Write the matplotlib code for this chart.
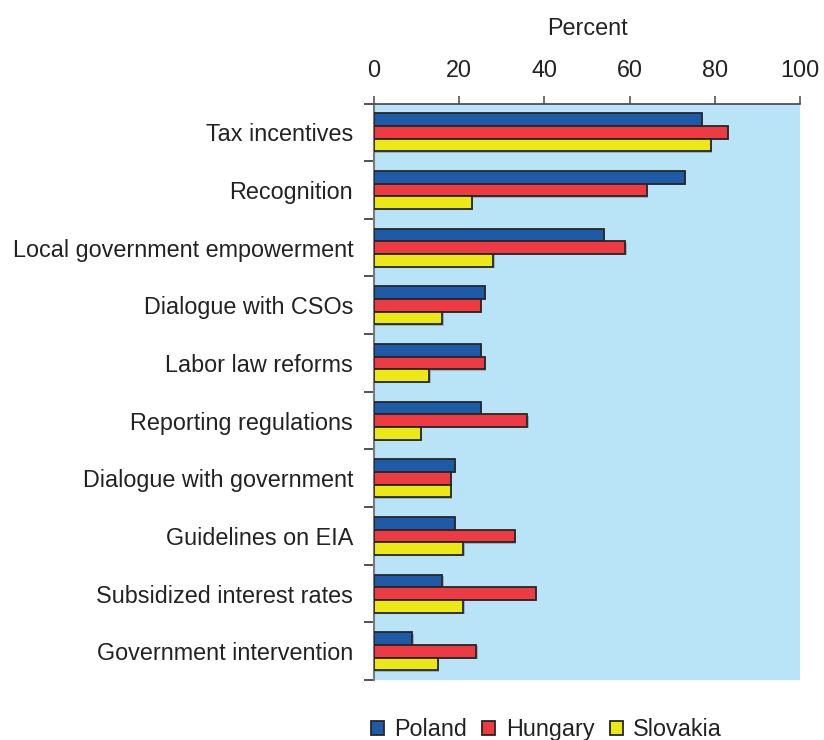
import numpy as np
import matplotlib
matplotlib.use("Agg")
import matplotlib.pyplot as plt
from matplotlib.patches import Patch
from matplotlib import patheffects as pe

plt.rcParams['font.family'] = ['Liberation Sans', 'DejaVu Sans']

categories = [
    "Tax incentives",
    "Recognition",
    "Local government empowerment",
    "Dialogue with CSOs",
    "Labor law reforms",
    "Reporting regulations",
    "Dialogue with government",
    "Guidelines on EIA",
    "Subsidized interest rates",
    "Government intervention",
]
poland = [77, 73, 54, 26, 25, 25, 19, 19, 16, 9]
hungary = [83, 64, 59, 25, 26, 36, 18, 33, 38, 24]
slovakia = [79, 23, 28, 16, 13, 11, 18, 21, 21, 15]
series_names = ["Poland", "Hungary", "Slovakia"]
x_ticks = [0, 20, 40, 60, 80, 100]

colors = ["#1D5BA8", "#EE3A43", "#ECE814"]
edge = "#262626"
bg = "#B9E4F7"
txt = "#222222"
fs = 16.8

fig = plt.figure(figsize=(8.24, 7.40), dpi=100)
ax = fig.add_axes([374 / 824, 1 - 680 / 740, 426 / 824, (680 - 103.5) / 740])
ax.set_facecolor(bg)

n = len(categories)
centers = np.arange(n) + 0.5
h = 0.22
shadow = [pe.SimplePatchShadow(offset=(1, -1), shadow_rgbFace="#555555", alpha=0.35), pe.Normal()]
for i, (vals, c) in enumerate(zip([poland, hungary, slovakia], colors)):
    ax.barh(centers + (i - 1) * h, vals, height=h, color=c, edgecolor=edge,
            linewidth=1.3, path_effects=shadow, zorder=3)

ax.set_xlim(0, 100)
ax.set_ylim(n, 0)

# x axis on top
ax.xaxis.tick_top()
ax.xaxis.set_label_position('top')
ax.set_xticks(x_ticks)
ax.set_xticklabels([str(t) for t in x_ticks], fontsize=fs, color=txt)
ax.tick_params(axis='x', direction='out', length=6, width=1.2, color="#555555", pad=9.5)
ax.set_xlabel("Percent", fontsize=fs, color=txt, labelpad=17.5)

# y ticks at group boundaries, labels at group centers
ax.set_yticks(np.arange(n + 1))
ax.set_yticklabels([])
ax.set_yticks(centers, minor=True)
ax.set_yticklabels(categories, minor=True, fontsize=fs, color=txt)
ax.tick_params(axis='y', which='major', direction='out', length=7, width=1.2, color="#333333")
ax.tick_params(axis='y', which='minor', length=0, pad=15)

for s in ['right', 'bottom']:
    ax.spines[s].set_visible(False)
ax.spines['left'].set_color("#7a7a7a")
ax.spines['left'].set_linewidth(1.5)
ax.spines['top'].set_color("#444444")
ax.spines['top'].set_linewidth(1.2)

handles = [Patch(facecolor=c, edgecolor=edge, linewidth=1.3, label=nm)
           for c, nm in zip(colors, series_names)]
fig.legend(handles=handles, loc='lower center', bbox_to_anchor=(0.663, -0.03),
           ncol=3, frameon=False, fontsize=fs, handlelength=0.56, handleheight=0.56,
           handletextpad=0.45, columnspacing=0.65, labelcolor=txt)

fig.savefig("out.png", dpi=100, facecolor="white")
